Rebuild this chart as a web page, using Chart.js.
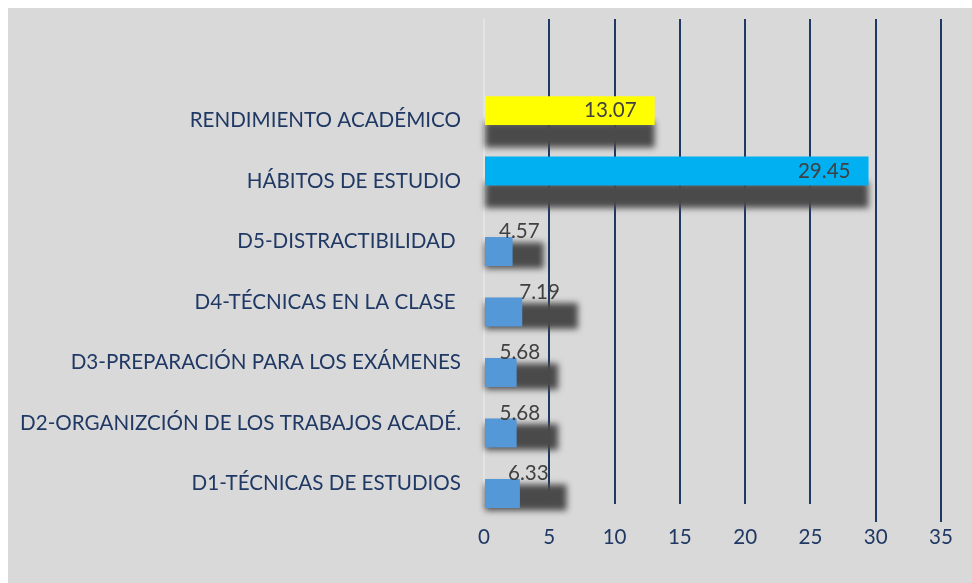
<!DOCTYPE html>
<html>
<head>
<meta charset="utf-8">
<script src="https://cdn.jsdelivr.net/npm/chart.js@4/dist/chart.umd.min.js"></script>
<style>
  html, body { margin: 0; padding: 0; background: #ffffff; width: 972px; height: 583px; overflow: hidden; }
  #wrap { position: absolute; left: 8px; top: 8px; width: 964px; height: 575px; background: #d9d9d9; }
</style>
</head>
<body>
<div id="wrap"><canvas id="c"></canvas></div>
<script>
// ---- data ----
const categories = [
  "RENDIMIENTO ACADÉMICO",
  "HÁBITOS DE ESTUDIO",
  "D5-DISTRACTIBILIDAD ",
  "D4-TÉCNICAS EN LA CLASE ",
  "D3-PREPARACIÓN PARA LOS EXÁMENES",
  "D2-ORGANIZCIÓN DE LOS TRABAJOS ACADÉ.",
  "D1-TÉCNICAS DE ESTUDIOS"
];
// labelled values (also the length of the shadows)
const values = [13.07, 29.45, 4.57, 7.19, 5.68, 5.68, 6.33];
// visible blue bars of the dimension rows (shorter than their labels in the picture)
const dimensionBars = [null, null, 2.19, 2.93, 2.5, 2.5, 2.75];
const topColors = ["#ffff00", "#00b0f0", "rgba(0,0,0,0)", "rgba(0,0,0,0)", "rgba(0,0,0,0)", "rgba(0,0,0,0)", "rgba(0,0,0,0)"];
const xTicks = [0, 5, 10, 15, 20, 25, 30, 35];

const NAVY = "#1f3864";
const FONT = "Lato";
const FSIZE = 20.6;

const toPoints = arr => arr.map((v, i) => ({ x: v, y: i }));

const shadowPlugin = {
  id: "shadowBlur",
  beforeDatasetDraw(chart, args) {
    if (args.index === 2) {
      const ctx = chart.ctx;
      ctx.save();
      ctx.filter = "blur(3px)";
      ctx.translate(0, 4);
    }
  },
  afterDatasetDraw(chart, args) {
    if (args.index === 2) chart.ctx.restore();
  }
};

const valueLabels = {
  id: "valueLabels",
  afterDatasetsDraw(chart) {
    const ctx = chart.ctx;
    const meta = chart.getDatasetMeta(0);
    ctx.save();
    ctx.font = FSIZE + "px " + FONT;
    ctx.fillStyle = "#404040";
    ctx.textAlign = "right";
    ctx.textBaseline = "middle";
    meta.data.forEach((el, i) => {
      const txt = values[i].toFixed(2);
      const w = ctx.measureText(txt).width;
      const right = Math.max(el.x - 18, el.base + 14 + w);
      ctx.fillText(txt, right, el.y);
    });
    ctx.restore();
  }
};

new Chart(document.getElementById("c"), {
  type: "bar",
  data: {
    datasets: [
      {
        label: "valor",
        data: toPoints(values),
        backgroundColor: topColors,
        stack: "a",
        barPercentage: 1.45,
        categoryPercentage: 0.66,
        clip: false
      },
      {
        label: "dimensión",
        data: toPoints(dimensionBars),
        backgroundColor: "#5598d8",
        stack: "b",
        barPercentage: 1.45,
        categoryPercentage: 0.66,
        clip: false
      },
      {
        label: "sombra",
        data: toPoints(values),
        backgroundColor: "#4a4a4a",
        stack: "b",
        barPercentage: 1.3,
        categoryPercentage: 0.66,
        clip: false
      }
    ]
  },
  options: {
    indexAxis: "y",
    responsive: true,
    maintainAspectRatio: false,
    animation: false,
    layout: { padding: { top: 11, right: 31, bottom: 0, left: 0 } },
    plugins: { legend: { display: false }, tooltip: { enabled: false } },
    scales: {
      x: {
        type: "linear",
        stacked: false,
        min: 0,
        max: 35,
        afterFit: s => { s.height = 79; s.paddingLeft = 0; s.paddingRight = 0; },
        afterBuildTicks: s => { s.ticks = xTicks.map(v => ({ value: v })); },
        border: { display: false },
        grid: {
          color: ctx => (ctx.tick && ctx.tick.value === 0) ? "#e4e4e4" : NAVY,
          lineWidth: 2,
          drawTicks: true,
          tickLength: 18,
          tickColor: ctx => (ctx.tick && ctx.tick.value >= 30) ? NAVY : "rgba(0,0,0,0)",
          tickWidth: 2
        },
        ticks: { color: NAVY, font: { family: FONT, size: FSIZE }, padding: 3 }
      },
      y: {
        type: "linear",
        reverse: true,
        offset: false,
        min: -1.68,
        max: 6.34,
        afterFit: s => { s.width = 476; s.paddingTop = 0; s.paddingBottom = 0; },
        border: { display: false },
        grid: { display: false, drawTicks: false, offset: false },
        ticks: {
          stepSize: 1,
          includeBounds: false,
          autoSkip: false,
          padding: 23,
          color: NAVY,
          font: { family: FONT, size: FSIZE },
          callback: v => (Number.isInteger(v) && categories[v] !== undefined) ? categories[v] : ""
        }
      }
    }
  },
  plugins: [shadowPlugin, valueLabels]
});
</script>
</body>
</html>
